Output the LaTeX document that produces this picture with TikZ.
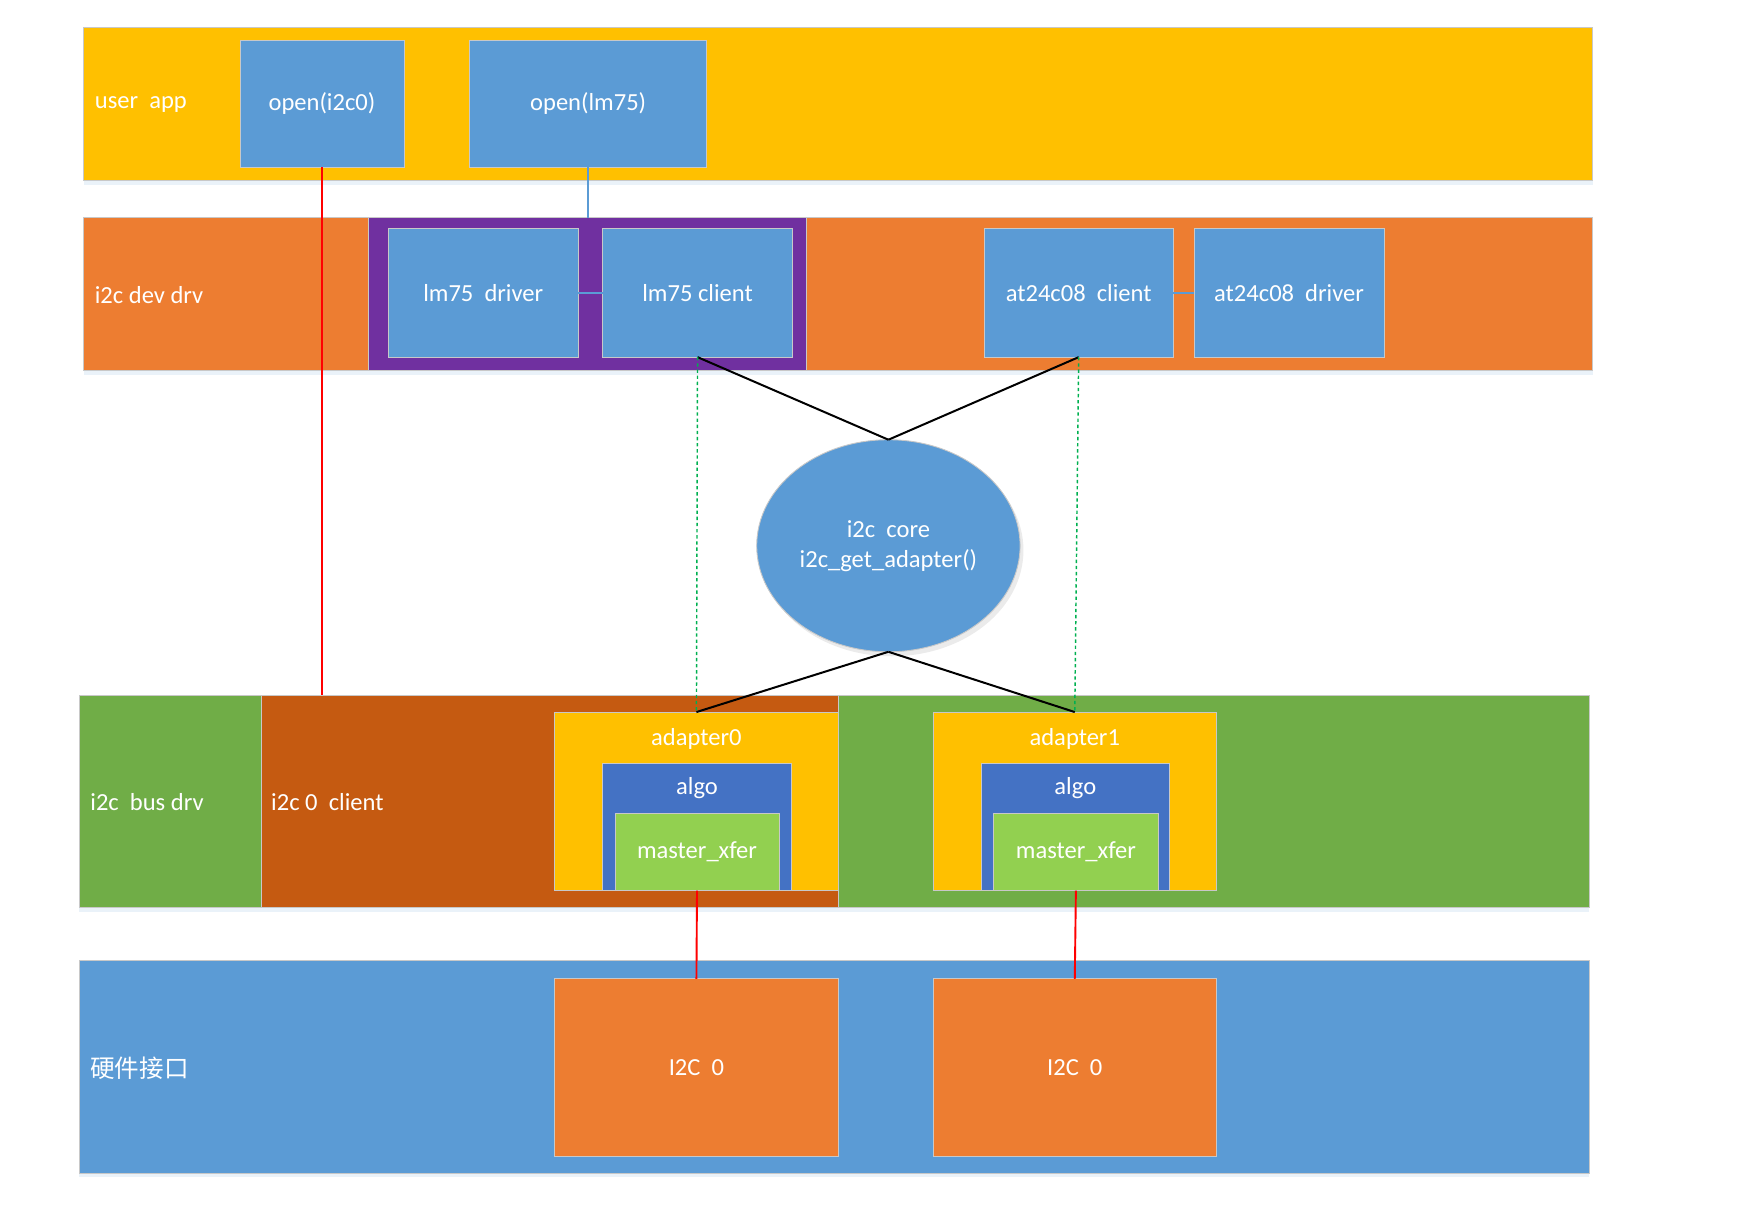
\documentclass[tikz,border=0pt]{standalone}
\usepackage{fontspec}
\setmainfont{Carlito}
\newfontfamily\cjk{Noto Sans CJK SC}
\usetikzlibrary{shapes.geometric,shadows}
\definecolor{cyel}{HTML}{FFC000}
\definecolor{cora}{HTML}{ED7D31}
\definecolor{cblu}{HTML}{5B9BD5}
\definecolor{cpur}{HTML}{7030A0}
\definecolor{cgrn}{HTML}{70AD47}
\definecolor{cdor}{HTML}{C55A11}
\definecolor{calg}{HTML}{4472C4}
\definecolor{clgr}{HTML}{92D050}
\definecolor{cedge}{HTML}{C8C8C8}
\definecolor{cdot}{HTML}{00B050}
\definecolor{cred}{HTML}{FF0000}
\begin{document}
\begin{tikzpicture}[x=1pt,y=-1pt,
  every node/.style={inner sep=0pt, outer sep=0pt, text=white, font=\fontsize{22}{27}\selectfont},
  blk/.style={rectangle, draw=cedge, line width=0.8pt},
  band/.style={blk, drop shadow={shadow xshift=0pt, shadow yshift=-4pt, fill=cblu!25, opacity=0.5}},
  lbl/.style={anchor=west},
  redline/.style={draw=cred, line width=1.7pt},
  blueline/.style={draw=cblu, line width=2pt},
  blackline/.style={draw=black, line width=1.8pt},
  dotline/.style={draw=cdot, line width=1.3pt, dash pattern=on 3pt off 2.5pt}]
\useasboundingbox (0,0) rectangle (1568,1085.5);

% user app band
\node[band, fill=cyel, minimum width=1352, minimum height=137] (ub) at (751,93.5) {};
\node[lbl] (ubl) at (85,94) {user~~app};
\node[blk, fill=cblu, minimum width=147, minimum height=114] (o1) at (288.5,93) {open(i2c0)};
\node[blk, fill=cblu, minimum width=212, minimum height=114] (o2) at (527,93) {open(lm75)};

% i2c dev drv band
\node[band, fill=cora, minimum width=1352, minimum height=137] (db) at (751,263.5) {};
\node[lbl] (dbl) at (85,264) {i2c dev drv};
\node[blk, fill=cpur, minimum width=393, minimum height=137] (pu) at (526.5,263.5) {};
\node[blk, fill=cblu, minimum width=170, minimum height=115] (lmd) at (433,262.5) {lm75~~driver};
\node[blk, fill=cblu, minimum width=170, minimum height=115] (lmc) at (625,262.5) {lm75 client};
\node[blk, fill=cblu, minimum width=169, minimum height=115] (atc) at (966.5,262.5) {at24c08~~client};
\node[blk, fill=cblu, minimum width=170, minimum height=115] (atd) at (1155,262.5) {at24c08~~driver};

% i2c core
\node[ellipse, draw=cedge, line width=0.8pt, fill=cblu, minimum width=236, minimum height=190, align=center,
  drop shadow={shadow xshift=3pt, shadow yshift=-4pt, fill=black!20, opacity=0.4}] (core) at (796,489) {i2c~~core\\i2c\_get\_adapter()};

% i2c bus drv band
\node[band, fill=cgrn, minimum width=1353, minimum height=190] (bb) at (747.5,718) {};
\node[lbl] (bbl) at (81,719) {i2c~~bus drv};
\node[blk, fill=cdor, minimum width=517, minimum height=190] (cl) at (492.5,718) {};
\node[lbl] (cll) at (243,719) {i2c 0~~client};

\node[blk, fill=cyel, minimum width=254, minimum height=160] (ad0) at (624,718) {};
\node (ad0l) at (624,662) {adapter0};
\node[blk, fill=calg, minimum width=169, minimum height=114] (al0) at (624.5,741) {};
\node (al0l) at (624.5,706) {algo};
\node[blk, fill=clgr, minimum width=147, minimum height=69] (mx0) at (624.5,763.5) {master\_xfer};

\node[blk, fill=cyel, minimum width=254, minimum height=160] (ad1) at (963,718) {};
\node (ad1l) at (963,662) {adapter1};
\node[blk, fill=calg, minimum width=169, minimum height=114] (al1) at (963.5,741) {};
\node (al1l) at (963.5,706) {algo};
\node[blk, fill=clgr, minimum width=148, minimum height=69] (mx1) at (964,763.5) {master\_xfer};

% hardware band
\node[band, fill=cblu, minimum width=1353, minimum height=190] (hb) at (747.5,956) {};
\node[lbl] (hbl) at (81,957) {\cjk 硬件接口};
\node[blk, fill=cora, minimum width=254, minimum height=159] (hw0) at (624,956.5) {I2C~~0};
\node[blk, fill=cora, minimum width=254, minimum height=159] (hw1) at (963,956.5) {I2C~~0};

% connectors
\draw[redline] (o1.south) -- (o1.south |- cl.north);
\draw[blueline] (o2.south) -- (o2.south |- pu.north);
\draw[blueline] (lmd.east) -- (lmc.west);
\draw[blueline] (atc.east) -- (atd.west);
\draw[blackline] (lmc.south) -- (core.north);
\draw[blackline] (atc.south) -- (core.north);
\draw[blackline] (core.south) -- (ad0.north);
\draw[blackline] (core.south) -- (ad1.north);
\draw[dotline] (lmc.south) -- (ad0.north);
\draw[dotline] (atc.south) -- (ad1.north);
\draw[redline] (mx0.south) -- (hw0.north);
\draw[redline] (mx1.south) -- (hw1.north);
\end{tikzpicture}
\end{document}
